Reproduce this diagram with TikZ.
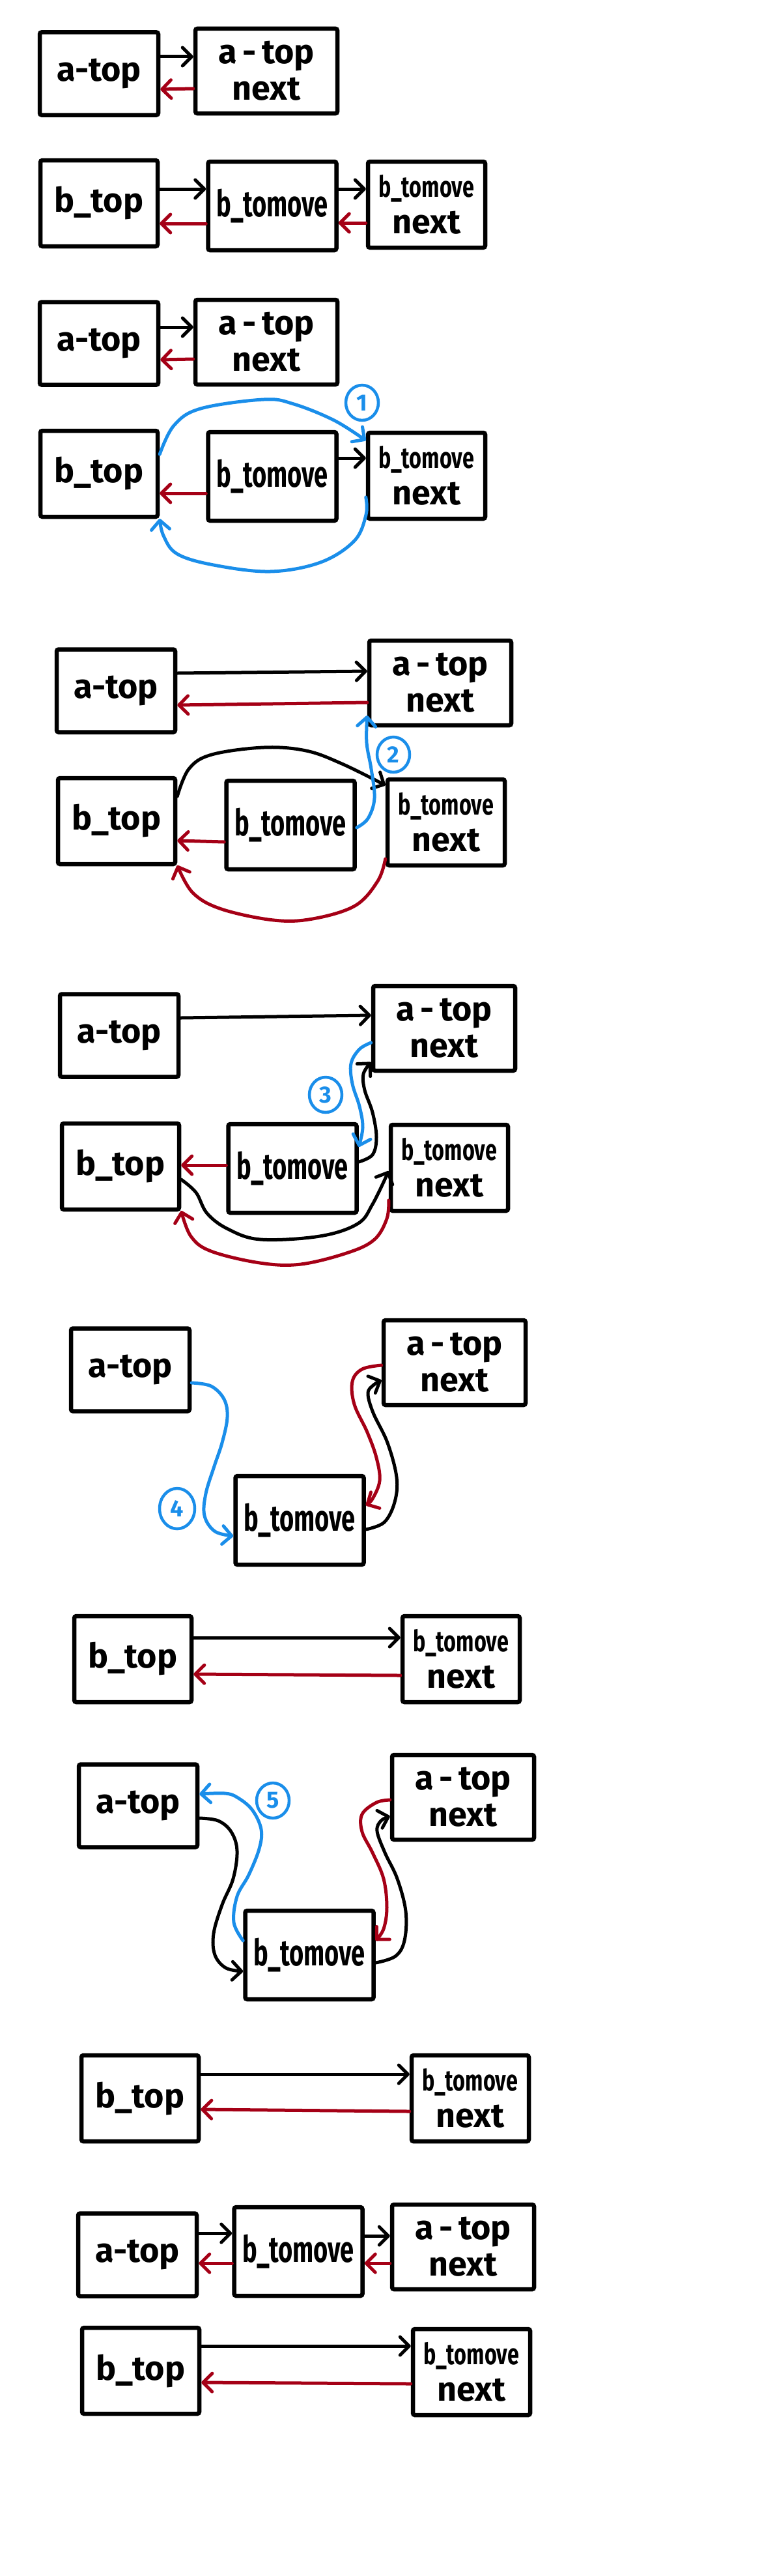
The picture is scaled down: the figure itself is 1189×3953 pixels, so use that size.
\documentclass[tikz,border=0pt]{standalone}
\usepackage{fontspec}
\setmainfont{Fira Sans}
\usepackage{graphicx}
\usetikzlibrary{arrows.meta,shapes.geometric}
\definecolor{myred}{HTML}{A50016}
\definecolor{myblue}{HTML}{1A8EEA}
\newcommand\lblfont{\fontsize{52}{56}\selectfont\bfseries}
\newcommand\tmv{{\fontsize{56}{56}\selectfont\scalebox{0.68}[1]{b\_tomove}}}
\newcommand\tmvs{{\fontsize{45}{46}\selectfont\scalebox{0.72}[1]{b\_tomove}}}
\tikzset{
  box/.style={draw, line width=6.5pt, rounded corners=3pt, inner sep=0pt, align=center, font=\lblfont},
  abox/.style={box, minimum width=182pt, minimum height=127pt},
  anbox/.style={box, minimum width=218pt, minimum height=130pt},
  btbox/.style={box, minimum width=180pt, minimum height=132pt},
  bmbox/.style={box, minimum width=197pt, minimum height=136pt},
  bnbox/.style={box, minimum width=180pt, minimum height=132pt},
  blk/.style={line width=5pt, line cap=round, line join=round, -{Straight Barb[length=14pt,width=28pt,round]}},
  rd/.style={blk, draw=myred},
  bl/.style={blk, draw=myblue},
  num/.style={draw=myblue, ellipse, line width=4.5pt, minimum width=50pt, minimum height=54pt, inner sep=0pt, text=myblue, font=\fontsize{36}{36}\selectfont\bfseries},
  sm/.style={smooth, tension=0.6}
}
\begin{document}
\begin{tikzpicture}[x=1pt,y=-1pt]
\fill[white] (0,0) rectangle (1189,3953);
\path[use as bounding box] (0,0) rectangle (1189,3953);

% ---------- Section 1 ----------
\node[abox]  (s1a)  at (152,113) {a-top};
\node[anbox] (s1an) at (409,109) {a\,-\,top\\next};
\node[btbox] (s1bt) at (152,312) {b\_top};
\node[bmbox] (s1bm) at (418,316) {\tmv};
\node[bnbox] (s1bn) at (655,314) {\tmvs\\next};
\draw[blk] (s1a.east |- 0,87) -- (s1an.west |- 0,87);
\draw[rd] (s1an.west |- 0,136) -- (s1a.east |- 0,137);
\draw[blk] (s1bt.east |- 0,290) -- (s1bm.west |- 0,290);
\draw[blk] (s1bm.east |- 0,290) -- (s1bn.west |- 0,290);
\draw[rd] (s1bm.west |- 0,343) -- (s1bt.east |- 0,343);
\draw[rd] (s1bn.west |- 0,342) -- (s1bm.east |- 0,342);

% ---------- Section 2 ----------
\node[abox]  (s2a)  at (152,527) {a-top};
\node[anbox] (s2an) at (409,525) {a\,-\,top\\next};
\node[btbox] (s2bt) at (152,727) {b\_top};
\node[bmbox] (s2bm) at (418,731) {\tmv};
\node[bnbox] (s2bn) at (655,730) {\tmvs\\next};
\draw[blk] (s2a.east |- 0,502) -- (s2an.west |- 0,502);
\draw[rd] (s2an.west |- 0,551) -- (s2a.east |- 0,552);
\draw[blk] (s2bm.east |- 0,703) -- (s2bn.west |- 0,703);
\draw[rd] (s2bm.west |- 0,757) -- (s2bt.east |- 0,757);
\node[num] (c1) at (556,618) {1};
\draw[bl] plot[sm] coordinates {(s2bt.east |- 0,697) (267,653) (308,627) (405,613) (451,620) (513,645) (s2bn.west |- 0,676)};
\draw[bl] plot[sm] coordinates {(s2bn.west |- 0,763) (562,790) (544,830) (492,863) (415,877) (328,867) (272,850) (251,822) (s2bt.east |- 0,796)};

% ---------- Section 3 ----------
\node[abox]  (s3a)  at (178,1060) {a-top};
\node[anbox] (s3an) at (676,1048) {a\,-\,top\\next};
\node[btbox] (s3bt) at (179,1260) {b\_top};
\node[bmbox] (s3bm) at (446,1266) {\tmv};
\node[bnbox] (s3bn) at (685,1262) {\tmvs\\next};
\draw[blk] (s3a.east |- 0,1033) -- (s3an.west |- 0,1030);
\draw[rd] (s3an.west |- 0,1078) -- (s3a.east |- 0,1082);
\draw[rd] (s3bm.west |- 0,1292) -- (s3bt.east |- 0,1290);
\draw[blk] plot[sm] coordinates {(s3bt.east |- 0,1222) (290,1180) (325,1158) (405,1147) (470,1152) (525,1172) (s3bn.west |- 0,1205)};
\draw[rd] plot[sm] coordinates {(s3bn.west |- 0,1318) (580,1352) (545,1390) (480,1410) (420,1412) (340,1395) (296,1370) (s3bt.east |- 0,1328)};
\draw[bl] plot[sm] coordinates {(s3bm.east |- 0,1270) (565,1256) (575,1225) (570,1180) (563,1140) (s3an.west |- 0,1098)};
\node[num] (c2) at (604,1158) {2};

% ---------- Section 4 ----------
\node[abox]  (s4a)  at (183,1589) {a-top};
\node[anbox] (s4an) at (682,1578) {a\,-\,top\\next};
\node[btbox] (s4bt) at (185,1790) {b\_top};
\node[bmbox] (s4bm) at (449,1793) {\tmv};
\node[bnbox] (s4bn) at (690,1792) {\tmvs\\next};
\draw[blk] (s4a.east |- 0,1562) -- (s4an.west |- 0,1558);
\draw[rd] (s4bm.west |- 0,1788) -- (s4bt.east |- 0,1788);
\draw[blk] plot[sm] coordinates {(s4bt.east |- 0,1810) (301,1830) (318,1862) (350,1886) (400,1902) (491,1897) (549,1878) (572,1848) (s4bn.west |- 0,1797)};
\draw[rd] plot[sm] coordinates {(s4bn.west |- 0,1842) (594,1870) (575,1902) (535,1922) (462,1940) (399,1938) (324,1920) (293,1897) (s4bt.east |- 0,1858)};
\draw[blk] plot[sm] coordinates {(s4bm.east |- 0,1783) (572,1772) (578,1745) (572,1707) (560,1673) (558,1648) (s4an.west |- 0,1630)};
\draw[bl] plot[sm] coordinates {(s4an.west |- 0,1600) (552,1610) (539,1632) (541,1663) (552,1698) (557,1730) (s4bm.east |- 0,1760)};
\node[num] (c3) at (500,1680) {3};

% ---------- Section 5 ----------
\node[abox]  (s5a)  at (200,2102) {a-top};
\node[anbox] (s5an) at (698,2091) {a\,-\,top\\next};
\node[bmbox] (s5bm) at (460,2333) {\tmv};
\node[btbox] (s5bt) at (204,2546) {b\_top};
\node[bnbox] (s5bn) at (708,2546) {\tmvs\\next};
\draw[bl] plot[sm] coordinates {(s5a.east |- 0,2122) (324,2127) (344,2147) (349,2175) (341,2214) (329,2250) (316,2292) (314,2326) (330,2350) (s5bm.west |- 0,2357)};
\node[num, minimum width=54pt, minimum height=62pt] (c4) at (272,2315) {4};
\draw[rd] plot[sm] coordinates {(s5an.west |- 0,2095) (556,2101) (541,2120) (544,2155) (564,2198) (578,2237) (583,2272) (572,2300) (s5bm.east |- 0,2310)};
\draw[blk] plot[sm] coordinates {(s5bm.east |- 0,2347) (590,2336) (606,2305) (609,2267) (595,2214) (573,2168) (565,2138) (574,2125) (s5an.west |- 0,2118)};
\draw[blk] (s5bt.east |- 0,2513) -- (s5bn.west |- 0,2513);
\draw[rd] (s5bn.west |- 0,2571) -- (s5bt.east |- 0,2569);

% ---------- Section 6 ----------
\node[abox]  (s6a)  at (212,2771) {a-top};
\node[anbox] (s6an) at (711,2758) {a\,-\,top\\next};
\node[bmbox] (s6bm) at (475,3000) {\tmv};
\draw[bl] plot[sm] coordinates {(s6bm.west |- 0,2978) (359,2950) (364,2910) (382,2877) (398,2837) (401,2807) (387,2777) (364,2758) (345,2752) (s6a.east |- 0,2753)};
\node[num] (c5) at (419,2763) {5};
\draw[blk] plot[sm] coordinates {(s6a.east |- 0,2790) (335,2794) (355,2811) (364,2840) (358,2883) (341,2923) (328,2967) (330,3000) (347,3020) (s6bm.west |- 0,3025)};
\draw[rd] plot[sm] coordinates {(s6an.west |- 0,2762) (578,2766) (556,2784) (556,2811) (572,2843) (589,2883) (594,2927) (589,2960) (s6bm.east |- 0,2978)};
\draw[blk] plot[sm] coordinates {(s6bm.east |- 0,3012) (607,3002) (621,2978) (623,2933) (610,2883) (591,2843) (579,2810) (585,2794) (s6an.west |- 0,2787)};

% ---------- Section 7 ----------
\node[btbox] (s7bt) at (215,3220) {b\_top};
\node[bnbox] (s7bn) at (722,3220) {\tmvs\\next};
\draw[blk] (s7bt.east |- 0,3183) -- (s7bn.west |- 0,3183);
\draw[rd] (s7bn.west |- 0,3240) -- (s7bt.east |- 0,3237);

% ---------- Section 8 ----------
\node[abox]  (s8a)  at (211,3460) {a-top};
\node[bmbox] (s8bm) at (458,3455) {\tmv};
\node[anbox] (s8an) at (711,3448) {a\,-\,top\\next};
\draw[blk] (s8a.east |- 0,3427) -- (s8bm.west |- 0,3427);
\draw[blk] (s8bm.east |- 0,3431) -- (s8an.west |- 0,3431);
\draw[rd] (s8bm.west |- 0,3473) -- (s8a.east |- 0,3473);
\draw[rd] (s8an.west |- 0,3473) -- (s8bm.east |- 0,3473);

% ---------- Section 9 ----------
\node[btbox] (s9bt) at (216,3638) {b\_top};
\node[bnbox] (s9bn) at (724,3640) {\tmvs\\next};
\draw[blk] (s9bt.east |- 0,3600) -- (s9bn.west |- 0,3600);
\draw[rd] (s9bn.west |- 0,3658) -- (s9bt.east |- 0,3656);
\end{tikzpicture}
\end{document}
